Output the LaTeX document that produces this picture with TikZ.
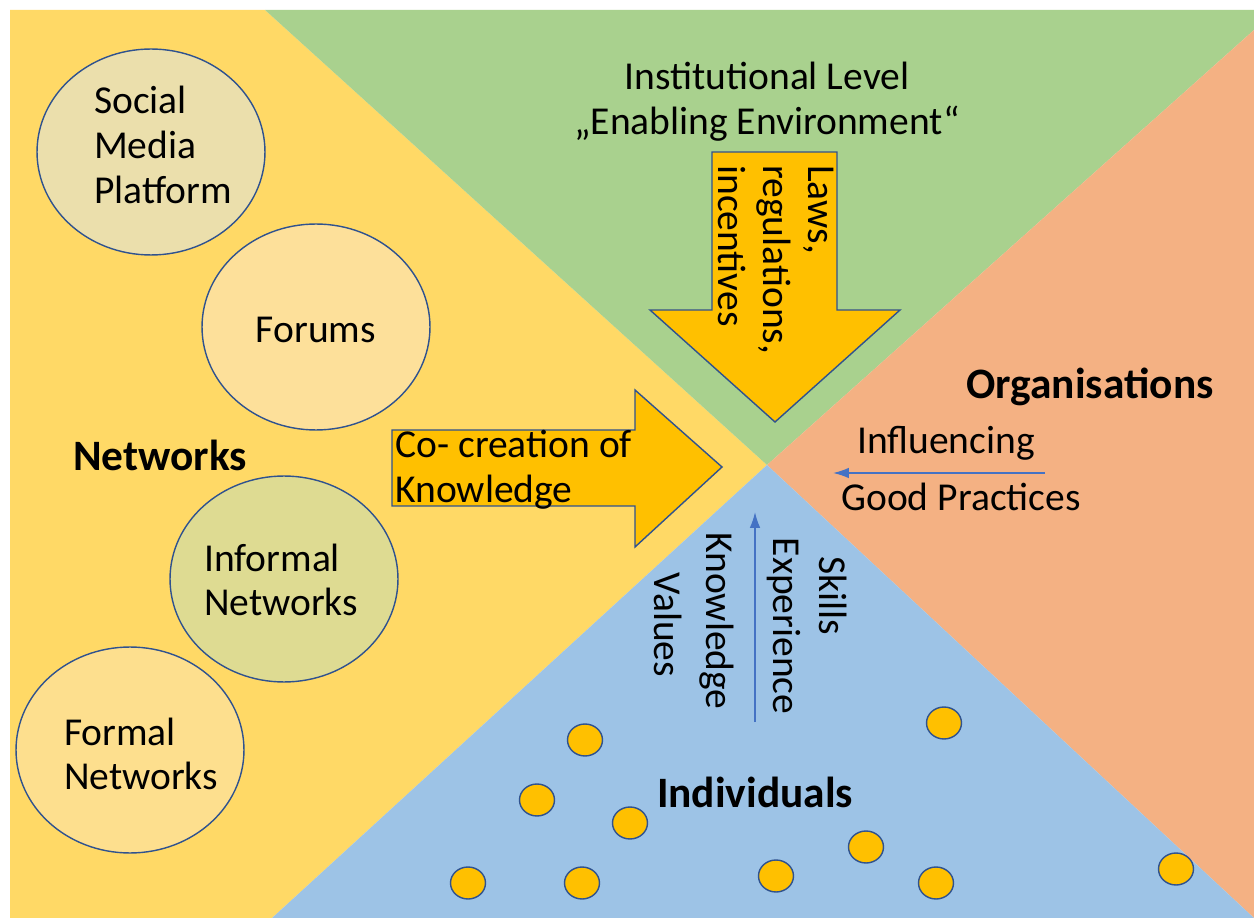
\documentclass[tikz,border=0pt]{standalone}
\usepackage{fontspec}
\setmainfont{Carlito}
\usetikzlibrary{shapes.geometric, arrows.meta}
\definecolor{netyellow}{HTML}{FFD966}
\definecolor{instgreen}{HTML}{A9D18E}
\definecolor{orgorange}{HTML}{F4B183}
\definecolor{indblue}{HTML}{9DC3E6}
\definecolor{arrowgold}{HTML}{FFC000}
\definecolor{rimblue}{HTML}{2F528F}
\definecolor{linkblue}{HTML}{4472C4}
\definecolor{socialfill}{HTML}{EBDFAC}
\definecolor{forumfill}{HTML}{FDE09A}
\definecolor{informalfill}{HTML}{DEDB92}
\definecolor{formalfill}{HTML}{FDDF8E}

\begin{document}
\begin{tikzpicture}[x=0.02cm, y=-0.02cm]
\tikzset{font=\fontsize{22.5}{25.5}\selectfont}
\tikzset{lbl/.style={inner sep=0pt, text=black}}
\tikzset{head/.style={font=\fontsize{24.7}{28}\selectfont\bfseries}}
\tikzset{bubble/.style={ellipse, draw=rimblue, line width=0.8pt, minimum width=4.56cm, minimum height=4.12cm, inner sep=0pt}}
\tikzset{dot/.style={ellipse, draw=rimblue, line width=0.8pt, fill=arrowgold, minimum width=0.7cm, minimum height=0.64cm, inner sep=0pt}}
\tikzset{bigarrow/.style={draw=rimblue, line width=0.8pt, fill=arrowgold}}
\tikzset{thinarrow/.style={draw=linkblue, line width=0.9pt, -{Latex[length=9pt,width=6pt]}}}

\useasboundingbox (0,0) rectangle (1254,918);
\fill[white] (0,0) rectangle (1254,918);
\fill[netyellow] (10,10) -- (265,10) -- (767,465) -- (272,918) -- (10,918) -- cycle;
\fill[instgreen] (265,10) -- (1254,10) -- (1254,30) -- (767,465) -- cycle;
\fill[orgorange] (1254,30) -- (767,465) -- (1254,918) -- cycle;
\fill[indblue] (767,465) -- (272,918) -- (1254,918) -- cycle;

\node[bubble, fill=socialfill] (social) at (151,152) {};
\node[bubble, fill=forumfill] (forums) at (316,327) {};
\node[bubble, fill=informalfill] (informal) at (284,579) {};
\node[bubble, fill=formalfill] (formal) at (130,750) {};
\node[lbl, align=left] (socialtext) at (163,145) {Social\\Media\\Platform};
\node[lbl] (forumstext) at (316,330) {Forums};
\node[lbl, align=left] (informaltext) at (281,580) {Informal\\Networks};
\node[lbl, align=left] (formaltext) at (141,754) {Formal\\Networks};
\node[lbl, head] (networks) at (160,455) {Networks};

\node[lbl, align=center] (inst) at (767,102) {Institutional Level\\„Enabling Environment“};
\draw[bigarrow] (712,152) -- (837,152) -- (837,310) -- (900,310) -- (775,422) -- (650,310) -- (712,310) -- cycle;
\node[lbl, rotate=-90, align=left, anchor=north west] (laws) at (834,165) {Laws,\\regulations,\\incentives};

\draw[bigarrow] (392,430) -- (635,430) -- (635,390) -- (722,467) -- (635,547) -- (635,506) -- (392,506) -- cycle;
\node[lbl, align=left, anchor=west] (cocreation) at (395,470) {Co- creation of\\Knowledge};

\node[lbl, head] (organisations) at (1090,387) {Organisations};
\node[lbl] (influencing) at (946,443) {Influencing};
\node[lbl] (goodpractices) at (961,497) {Good Practices};
\coordinate (inflfrom) at (1045,473);
\coordinate (inflto) at (833,473);
\draw[thinarrow] (inflfrom) -- (inflto);

\node[lbl, rotate=-90] (skills) at (833,596) {Skills};
\node[lbl, rotate=-90] (experience) at (784,626) {Experience};
\node[lbl, rotate=-90] (knowledge) at (717,621) {Knowledge};
\node[lbl, rotate=-90] (values) at (668,625) {Values};
\coordinate (growfrom) at (755,722);
\coordinate (growto) at (755,512);
\draw[thinarrow] (growfrom) -- (growto);

\node[lbl, head] (individuals) at (755,792) {Individuals};
\foreach \px/\py [count=\i] in {585/740, 944/723, 537/800, 630/823, 866/847, 468/883, 582/883, 776/876, 936/883, 1176/869}
  \node[dot] (dot\i) at (\px,\py) {};
\end{tikzpicture}
\end{document}
